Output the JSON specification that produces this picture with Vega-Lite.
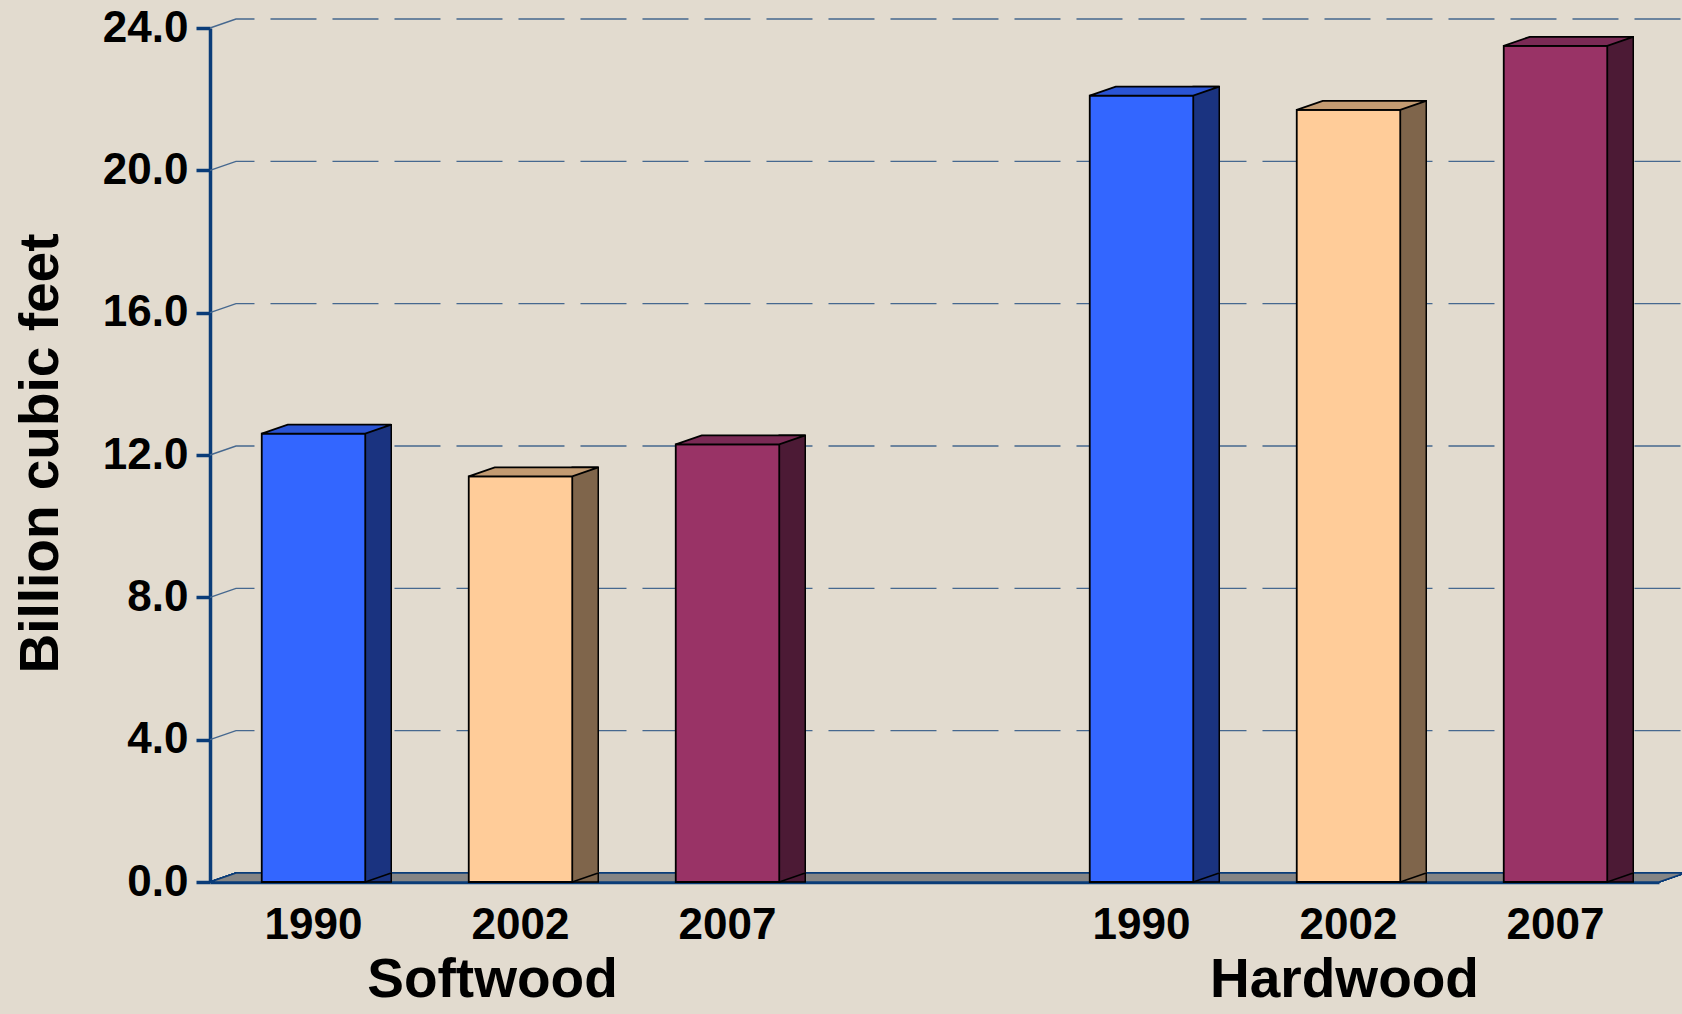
{
  "$schema": "https://vega.github.io/schema/vega-lite/v6.json",
  "width": 1449,
  "height": 854,
  "autosize": {"type": "none"},
  "padding": {"left": 210, "top": 28, "right": 23, "bottom": 132},
  "background": "#E2DBCF",
  "config": {
    "view": {"stroke": null},
    "font": "Liberation Sans",
    "axisY": {
      "labelFont": "Liberation Sans", "labelFontSize": 44, "labelFontWeight": "bold", "labelColor": "#000000",
      "labelPadding": 8, "tickSize": 14, "tickWidth": 3.5, "tickColor": "#0A3C78",
      "domainColor": "#0A3C78", "domainWidth": 3.5, "grid": false, "zindex": 1,
      "titleFont": "Liberation Sans", "titleFontSize": 55, "titleFontWeight": "bold", "titleColor": "#000000",
      "titleX": -153, "titleY": 425, "titleAngle": -90, "titleAlign": "center", "titleBaseline": "alphabetic"
    },
    "axisX": {
      "labelFont": "Liberation Sans", "labelFontSize": 44, "labelFontWeight": "bold", "labelColor": "#000000",
      "labelPadding": 21, "ticks": false, "domainColor": "#0A3C78", "domainWidth": 3.5, "grid": false, "zindex": 1,
      "labelAngle": 0
    }
  },
  "datasets": {
    "wood": [
      {"group": "Softwood", "year": "1990", "slot": "Softwood 1990", "volume": 12.6},
      {"group": "Softwood", "year": "2002", "slot": "Softwood 2002", "volume": 11.4},
      {"group": "Softwood", "year": "2007", "slot": "Softwood 2007", "volume": 12.3},
      {"group": "Hardwood", "year": "1990", "slot": "Hardwood 1990", "volume": 22.1},
      {"group": "Hardwood", "year": "2002", "slot": "Hardwood 2002", "volume": 21.7},
      {"group": "Hardwood", "year": "2007", "slot": "Hardwood 2007", "volume": 23.5}
    ],
    "grid": [{"tick": 4}, {"tick": 8}, {"tick": 12}, {"tick": 16}, {"tick": 20}, {"tick": 24}],
    "groups": [
      {"group": "Softwood", "slot": "Softwood 2002"},
      {"group": "Hardwood", "slot": "Hardwood 2002"}
    ]
  },
  "data": {"name": "wood"},
  "resolve": {"scale": {"color": "independent"}},
  "layer": [
    {
      "mark": {"type": "point", "shape": "M -103.5 0 L -77.5 -9 L 1371.5 -9 L 1345.5 0 Z", "size": 4, "filled": true, "fill": "#858585", "stroke": "#0A3C78", "strokeWidth": 1.5, "opacity": 1},
      "encoding": {
        "x": {"datum": "Softwood 1990", "type": "nominal"},
        "y": {"datum": 0, "type": "quantitative"}
      }
    },
    {
      "data": {"name": "grid"},
      "mark": {"type": "point", "shape": "M -103.5 0 L -77.5 -9 L 1372 -9", "size": 4, "filled": false, "fillOpacity": 0, "stroke": "#46688F", "strokeWidth": 1.4, "strokeDash": [46, 16], "opacity": 1},
      "encoding": {
        "x": {"datum": "Softwood 1990", "type": "nominal"},
        "y": {"field": "tick", "type": "quantitative", "title": "Billion cubic feet"}
      }
    },
    {
      "mark": {"type": "bar", "width": 26, "xOffset": 64.75, "yOffset": -9, "y2Offset": -9, "stroke": "#000000", "strokeWidth": 1.5, "opacity": 1},
      "encoding": {
        "x": {"field": "slot", "type": "nominal"},
        "y": {"field": "volume", "type": "quantitative", "stack": null, "title": "Billion cubic feet"},
        "color": {"field": "year", "type": "nominal", "scale": {"domain": ["1990", "2002", "2007"], "range": ["#1A3380", "#7F654B", "#4C1A35"]}, "legend": null}
      }
    },
    {
      "mark": {"type": "point", "shape": "M 51.75 0 L 77.75 -9 L 77.75 -10.2 L 51.75 -10.2 Z", "size": 4, "filled": true, "opacity": 1, "strokeWidth": 0},
      "encoding": {
        "x": {"field": "slot", "type": "nominal"},
        "y": {"datum": 0, "type": "quantitative"},
        "color": {"field": "year", "type": "nominal", "scale": {"domain": ["1990", "2002", "2007"], "range": ["#1A3380", "#7F654B", "#4C1A35"]}, "legend": null}
      }
    },
    {
      "mark": {"type": "point", "shape": "M 51.75 0 L 77.75 -9", "size": 4, "filled": false, "fillOpacity": 0, "stroke": "#000000", "strokeWidth": 1.5, "opacity": 1},
      "encoding": {
        "x": {"field": "slot", "type": "nominal"},
        "y": {"datum": 0, "type": "quantitative"}
      }
    },
    {
      "mark": {"type": "bar", "stroke": "#000000", "strokeWidth": 1.8, "opacity": 1},
      "encoding": {
        "x": {
          "field": "slot", "type": "nominal", "title": null,
          "scale": {
            "domain": ["Softwood 1990", "Softwood 2002", "Softwood 2007", "gap", "Hardwood 1990", "Hardwood 2002", "Hardwood 2007"],
            "paddingInner": 0.5, "paddingOuter": 0.25
          },
          "axis": {"labelExpr": "substring(datum.value, 9)"}
        },
        "y": {
          "field": "volume", "type": "quantitative", "stack": null, "title": "Billion cubic feet",
          "scale": {"domain": [0, 24], "nice": false, "zero": true},
          "axis": {"values": [0, 4, 8, 12, 16, 20, 24], "format": ".1f"}
        },
        "color": {"field": "year", "type": "nominal", "scale": {"domain": ["1990", "2002", "2007"], "range": ["#3366FF", "#FFCC99", "#993366"]}, "legend": null}
      }
    },
    {
      "mark": {"type": "point", "shape": "M -51.75 0 L 51.75 0 L 77.75 -9 L -25.75 -9 Z", "size": 4, "filled": true, "stroke": "#000000", "strokeWidth": 1.8, "opacity": 1},
      "encoding": {
        "x": {"field": "slot", "type": "nominal"},
        "y": {"field": "volume", "type": "quantitative", "stack": null, "title": "Billion cubic feet"},
        "color": {"field": "year", "type": "nominal", "scale": {"domain": ["1990", "2002", "2007"], "range": ["#2A54D4", "#C39B72", "#7A2A55"]}, "legend": null}
      }
    },
    {
      "data": {"name": "groups"},
      "transform": [{"filter": "datum.group == 'Softwood'"}],
      "mark": {"type": "text", "font": "Liberation Sans", "fontSize": 55, "fontWeight": "bold", "color": "#000000", "align": "center", "baseline": "alphabetic", "dy": 115, "dx": -28},
      "encoding": {
        "x": {"field": "slot", "type": "nominal"},
        "y": {"datum": 0, "type": "quantitative"},
        "text": {"field": "group"}
      }
    },
    {
      "data": {"name": "groups"},
      "transform": [{"filter": "datum.group == 'Hardwood'"}],
      "mark": {"type": "text", "font": "Liberation Sans", "fontSize": 55, "fontWeight": "bold", "color": "#000000", "align": "center", "baseline": "alphabetic", "dy": 115, "dx": -4},
      "encoding": {
        "x": {"field": "slot", "type": "nominal"},
        "y": {"datum": 0, "type": "quantitative"},
        "text": {"field": "group"}
      }
    }
  ]
}
